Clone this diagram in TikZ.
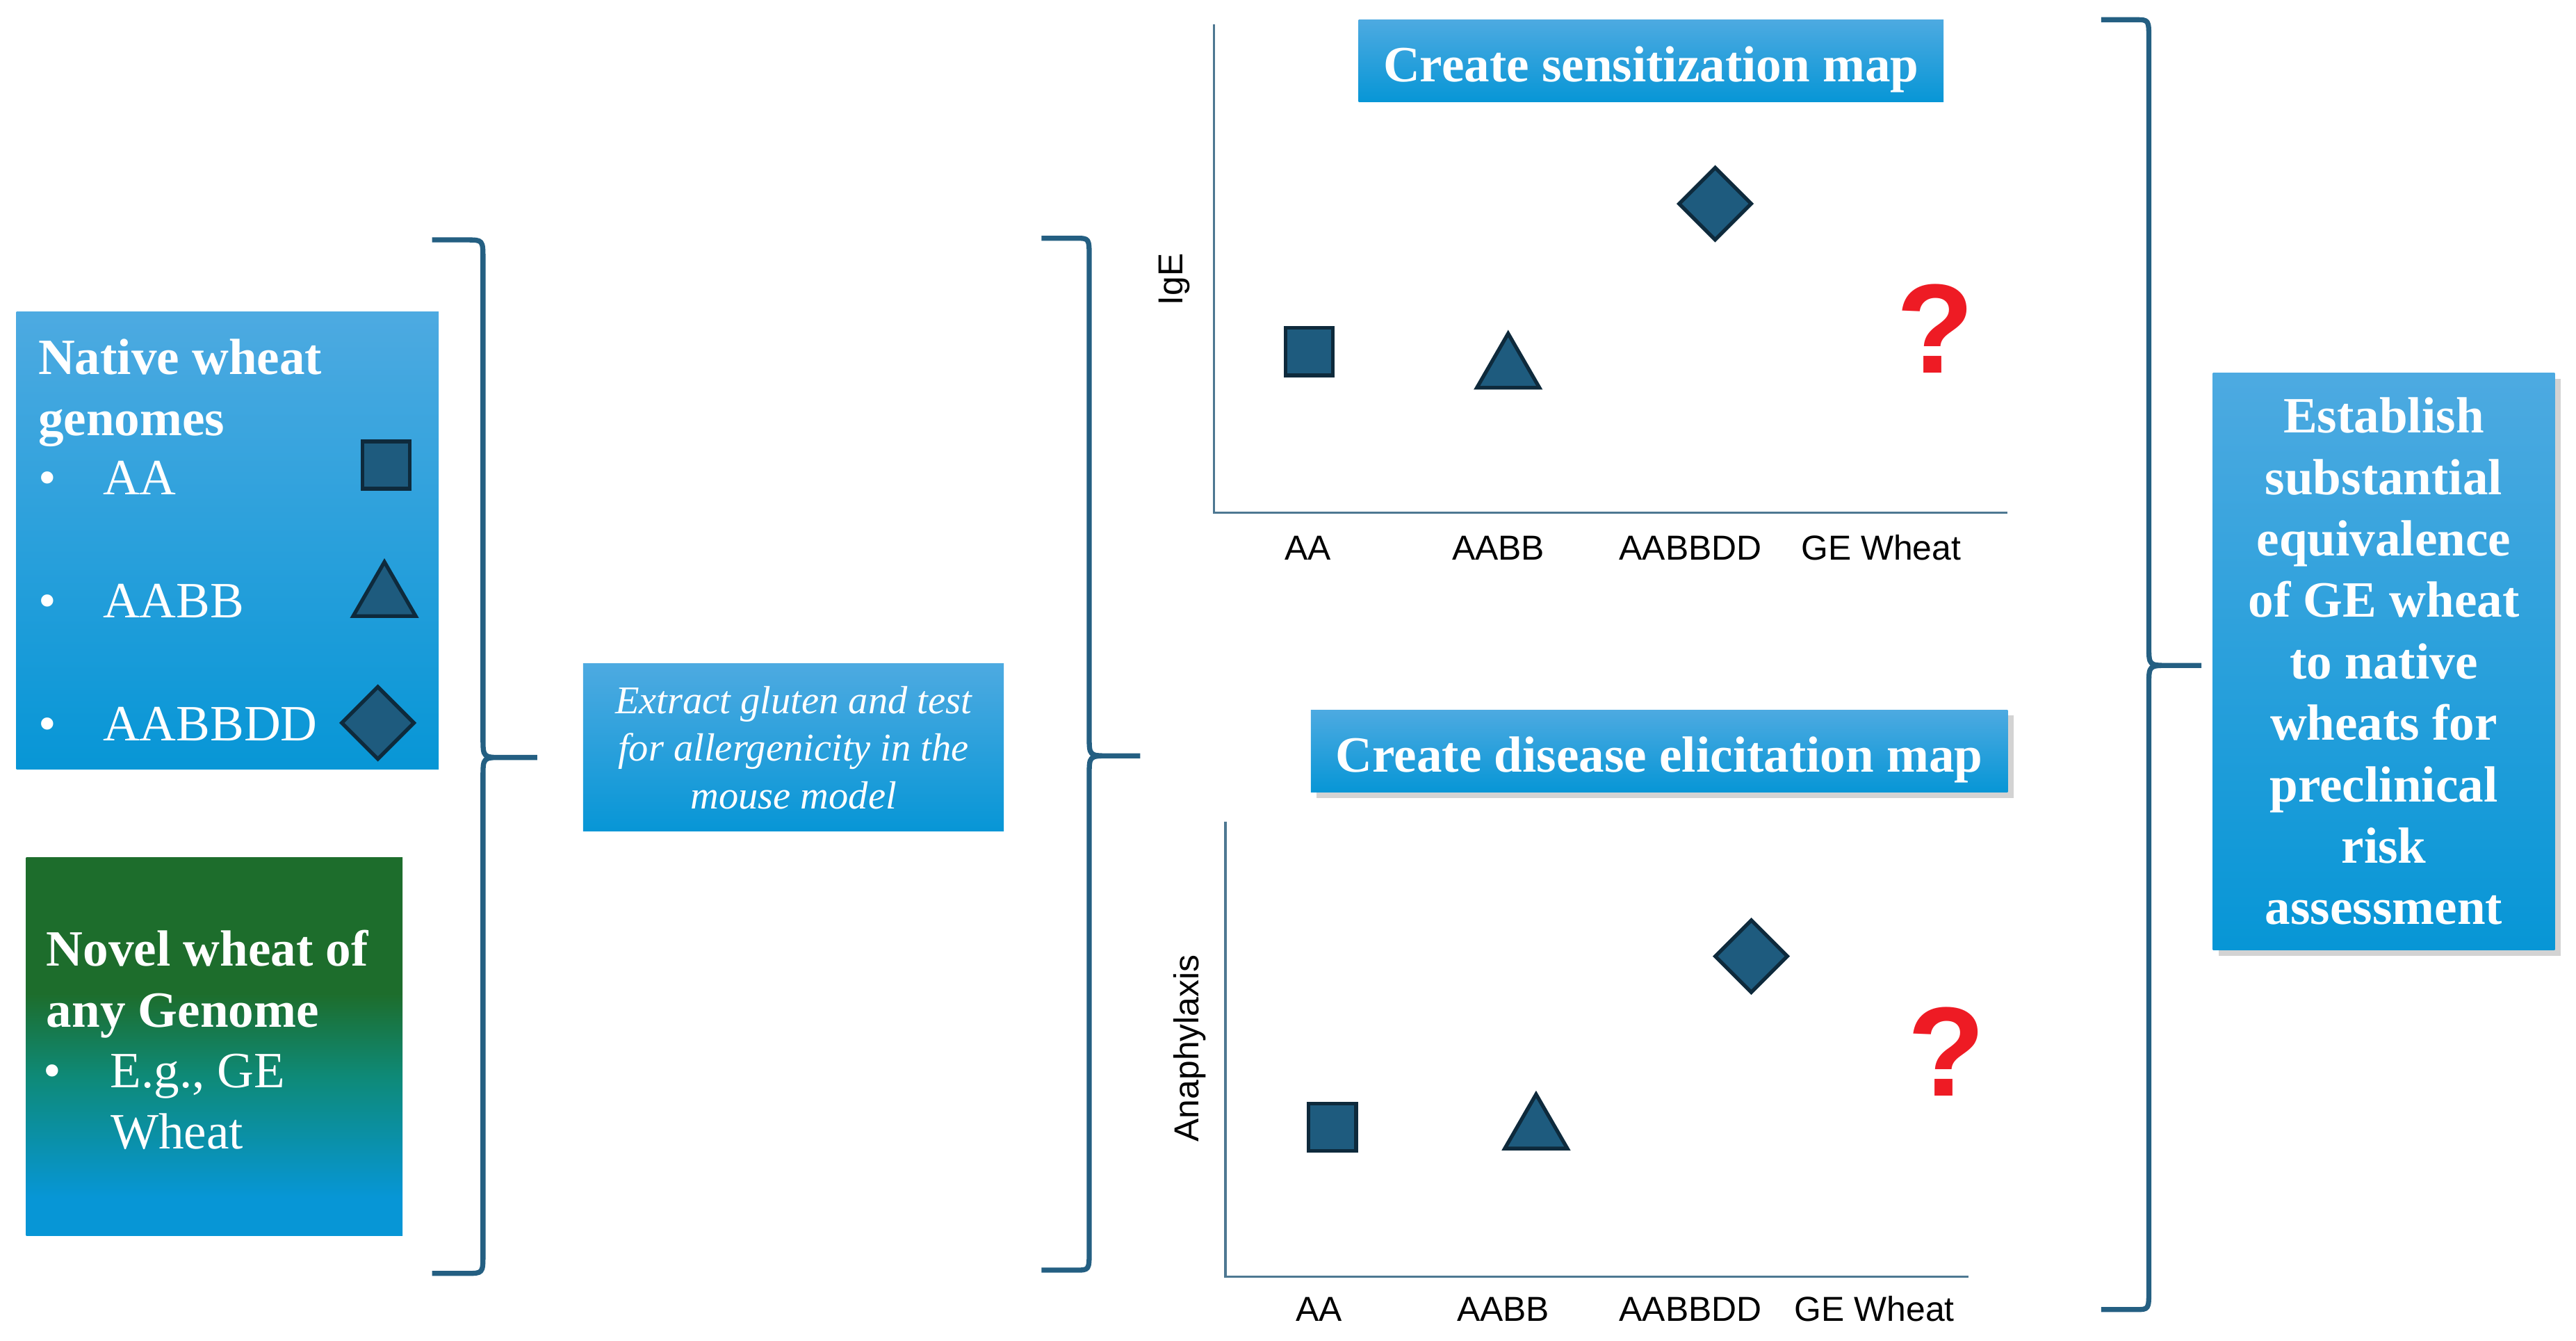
\documentclass[tikz,border=0pt]{standalone}
\usepackage{fontspec}
\setmainfont{Liberation Serif}
\setsansfont{Liberation Sans}
\usepackage{xcolor}
\usetikzlibrary{shapes.geometric}
\usetikzlibrary{shadows}

\definecolor{boxtop}{HTML}{4DAAE1}
\definecolor{boxbot}{HTML}{0796D6}
\definecolor{novgreen}{HTML}{1D6D2C}
\definecolor{novteal}{HTML}{0E8A78}
\definecolor{bracecol}{HTML}{245F82}
\definecolor{markfill}{HTML}{1E5B7E}
\definecolor{markline}{HTML}{0E2A3C}
\definecolor{axiscol}{HTML}{4E7892}
\definecolor{qred}{HTML}{EE1B24}

\pgfdeclareverticalshading{novelshade}{100bp}{color(0bp)=(boxbot); color(30bp)=(boxbot);
  color(46bp)=(novteal); color(57bp)=(novgreen); color(100bp)=(novgreen)}

\begin{document}
\begin{tikzpicture}[x=0.025cm,y=-0.025cm,
    blue box/.style={rectangle,top color=boxtop,bottom color=boxbot,inner sep=0pt},
    box text/.style={text=white,inner sep=0pt,font=\fontsize{22}{26.6}\selectfont\bfseries},
    title box/.style={blue box,box text,minimum height=1.25cm,text height=18pt,text depth=0pt},
    item text/.style={text=white,inner sep=0pt,anchor=base west,font=\fontsize{22}{26.6}\selectfont},
    mark node/.style={draw=markline,fill=markfill,line width=1.6pt,inner sep=0pt},
    sq mark/.style={mark node,rectangle,minimum size=0.72cm},
    tri mark/.style={mark node,regular polygon,regular polygon sides=3,minimum size=1.1cm},
    dm mark/.style={mark node,diamond,minimum size=1.12cm},
    axis label/.style={inner sep=0pt,anchor=base,font=\sffamily\fontsize{15}{18}\selectfont},
    query/.style={text=qred,inner sep=0pt,font=\sffamily\bfseries\fontsize{55}{60}\selectfont},
    soft shadow/.style={drop shadow={shadow xshift=2.5pt,shadow yshift=-2.5pt,opacity=.35}},
    brace line/.style={draw=bracecol,line width=2.2pt,line join=round},
    axis line/.style={draw=axiscol,line width=1.1pt}]
  \useasboundingbox (0,0) rectangle (1568,816);

  % left column
  \node[blue box,minimum width=6.425cm,minimum height=6.95cm] (native) at (138.5,329) {};
  \node[rectangle,shading=novelshade,inner sep=0pt,minimum width=5.725cm,minimum height=5.75cm] (novel) at (130.5,637) {};

  \node[box text,anchor=base west] (nattitle) at (23,228) {Native wheat};
  \node[box text,anchor=base west] (natgenome) at (23,265) {genomes};
  \node[item text] (itemaa) at (23,301) {\makebox[28pt][l]{\textbullet}AA};
  \node[item text] (itemaabb) at (23,376) {\makebox[28pt][l]{\textbullet}AABB};
  \node[item text] (itemaabbdd) at (23,451) {\makebox[28pt][l]{\textbullet}AABBDD};
  \node[sq mark] (natsq) at (235,283) {};
  \node[tri mark] (nattri) at (234,364) {};
  \node[dm mark] (natdm) at (230,440) {};

  \node[box text,anchor=base west] (novtitle) at (28,588) {Novel wheat of};
  \node[box text,anchor=base west] (novany) at (28,625) {any Genome};
  \node[item text] (noveg) at (26,662) {\makebox[29pt][l]{\textbullet}E.g., GE};
  \node[item text] (novwheat) at (67,699) {Wheat};

  \draw[brace line] (263,146) -- (284,146) .. controls (294,146) .. (294,158) -- (294,449)
    .. controls (294,461) .. (306,461) -- (327,461)
    (306,461) .. controls (294,461) .. (294,473) -- (294,763) .. controls (294,775) .. (284,775) -- (263,775);

  % mouse model step
  \node[blue box,minimum width=6.4cm,minimum height=2.55cm,text=white,align=center,
        font=\itshape\fontsize{17}{20.6}\selectfont] (extract) at (483,455)
        {Extract gluten and test\\for allergenicity in the\\mouse model};

  \draw[brace line] (634,145) -- (655,145) .. controls (663,145) .. (663,157) -- (663,448)
    .. controls (663,460) .. (675,460) -- (694,460)
    (675,460) .. controls (663,460) .. (663,472) -- (663,761) .. controls (663,773) .. (655,773) -- (634,773);

  % sensitization map
  \coordinate (tly) at (739,15);
  \coordinate (tlo) at (739,312);
  \coordinate (tlx) at (1222,312);
  \draw[axis line] (tly) -- (tlo) -- (tlx);
  \node[title box,minimum width=8.9cm] (senstitle) at (1005,37) {Create sensitization map};
  \node[font=\sffamily\fontsize{15}{18}\selectfont,rotate=90] (igelabel) at (715,170) {IgE};
  \node[axis label] (taa) at (796,341) {AA};
  \node[axis label] (taabb) at (912,341) {AABB};
  \node[axis label] (taabbdd) at (1029,341) {AABBDD};
  \node[axis label] (tge) at (1145,341) {GE Wheat};
  \node[sq mark] (tsq) at (797,214) {};
  \node[tri mark] (ttri) at (918,225) {};
  \node[dm mark] (tdm) at (1044,124) {};
  \node[query] (tquery) at (1178,200) {?};

  % elicitation map
  \coordinate (bly) at (746,500);
  \coordinate (blo) at (746,777);
  \coordinate (blx) at (1198,777);
  \draw[axis line] (bly) -- (blo) -- (blx);
  \node[title box,soft shadow,minimum width=10.6cm] (elictitle) at (1010,457) {Create disease elicitation map};
  \node[font=\sffamily\fontsize{15}{18}\selectfont,rotate=90] (anaphlabel) at (724,638) {Anaphylaxis};
  \node[axis label] (baa) at (803,804) {AA};
  \node[axis label] (baabb) at (915,804) {AABB};
  \node[axis label] (baabbdd) at (1029,804) {AABBDD};
  \node[axis label] (bge) at (1141,804) {GE Wheat};
  \node[sq mark] (bsq) at (811,686) {};
  \node[tri mark] (btri) at (935,688) {};
  \node[dm mark] (bdm) at (1066,582) {};
  \node[query] (bquery) at (1185,640) {?};

  \draw[brace line] (1279,12) -- (1300,12) .. controls (1308,12) .. (1308,24) -- (1308,393)
    .. controls (1308,405) .. (1320,405) -- (1340,405)
    (1320,405) .. controls (1308,405) .. (1308,417) -- (1308,785) .. controls (1308,797) .. (1300,797) -- (1279,797);

  % outcome
  \node[blue box,box text,soft shadow,align=center,minimum width=5.2cm,minimum height=8.775cm] (establish) at (1451,402.5)
    {Establish\\substantial\\equivalence\\of GE wheat\\to native\\wheats for\\preclinical\\risk\\assessment};
\end{tikzpicture}
\end{document}
